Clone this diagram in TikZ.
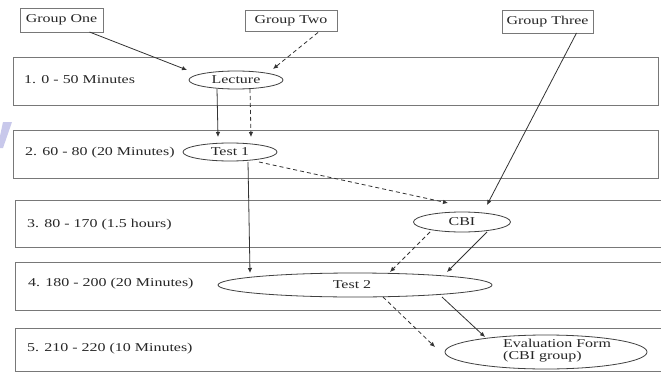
\documentclass[tikz,border=0pt]{standalone}
\usepackage{fontspec}
\setmainfont{Liberation Serif}
\usetikzlibrary{shapes.geometric,arrows.meta,calc}
\newcommand{\wtxt}[1]{\scalebox{1.33}[1]{#1}}
\definecolor{boxgray}{RGB}{120,120,120}
\definecolor{lav}{RGB}{200,200,235}
\tikzset{
  x=1pt, y=-1pt,
  every node/.style={font=\fontsize{12}{13}\selectfont, text=black!85},
  rowbox/.style={draw=boxgray, line width=0.9pt},
  grpbox/.style={draw=boxgray, line width=0.9pt, rectangle, inner sep=0pt},
  oval/.style={draw=black!75, line width=0.8pt, ellipse, inner sep=0pt},
  rowlabel/.style={anchor=west, inner sep=0pt},
  arr/.style={draw=black!80, line width=0.8pt, -{Latex[length=5pt,width=4.5pt]}},
  darr/.style={arr, dash pattern=on 4pt off 3pt},
}
\begin{document}
\begin{tikzpicture}
\clip (0,0) rectangle (661,372);
\fill[white] (0,0) rectangle (661,372);
% watermark stroke
\fill[lav] (3,122) -- (12,122) -- (3,148) -- (0,148) -- (0,136) -- cycle;
% row boxes
\draw[rowbox] (13,57) rectangle (658,105);
\draw[rowbox] (13,130) rectangle (658,178);
\draw[rowbox] (15,200) rectangle (670,247);
\draw[rowbox] (15,262) rectangle (670,310);
\draw[rowbox] (15,328) rectangle (670,371);
% row labels
\node[rowlabel] (r1) at (24,80) {\wtxt{1. 0 - 50 Minutes}};
\node[rowlabel] (r2) at (25,153) {\wtxt{2. 60 - 80 (20 Minutes)}};
\node[rowlabel] (r3) at (27,225) {\wtxt{3. 80 - 170 (1.5 hours)}};
\node[rowlabel] (r4) at (28,284) {\wtxt{4. 180 - 200 (20 Minutes)}};
\node[rowlabel] (r5) at (27,349) {\wtxt{5. 210 - 220 (10 Minutes)}};
% group boxes
\node[grpbox, minimum width=83pt, minimum height=24pt] (g1) at (61.5,20) {\wtxt{Group One}};
\node[grpbox, minimum width=92pt, minimum height=21pt] (g2) at (291,20.5) {\wtxt{Group Two}};
\node[grpbox, minimum width=91pt, minimum height=23pt] (g3) at (547.5,21.5) {\wtxt{Group Three}};
% ellipses
\node[oval, minimum width=94pt, minimum height=18pt] (lec) at (236,80) {\wtxt{Lecture}};
\node[oval, minimum width=94pt, minimum height=18pt] (t1) at (230,152) {\wtxt{Test 1}};
\node[oval, minimum width=97pt, minimum height=20pt] (cbi) at (462,222) {\wtxt{CBI}};
\node[oval, minimum width=274pt, minimum height=24pt] (t2) at (355,285) {};
\node (t2txt) at (352,285) {\wtxt{Test 2}};
\node[oval, minimum width=202pt, minimum height=34pt] (ev) at (546,352) {};
\node[anchor=west, inner sep=0pt, align=left] (evtxt) at (503,351) {\wtxt{Evaluation Form}\\[-1pt]\wtxt{(CBI group)}};
% connectors
\draw[arr] ($(g1.center)+(28,12)$) -- ($(lec.center)+(-49,-10)$);
\draw[darr] ($(g2.center)+(27,12)$) -- ($(lec.center)+(37,-11)$);
\draw[arr] ($(lec.center)+(-19,9)$) -- ($(t1.center)+(-12,-15)$);
\draw[darr] ($(lec.center)+(14,9)$) -- ($(t1.center)+(21,-15)$);
\draw[darr] ($(t1.center)+(29,10)$) -- ($(cbi.center)+(-14,-19)$);
\draw[arr] ($(g3.center)+(29,11.5)$) -- ($(cbi.center)+(25,-17)$);
\draw[arr] ($(t1.center)+(18,10)$) -- ($(t2.center)+(-105,-12)$);
\draw[darr] ($(cbi.center)+(-32,10)$) -- ($(t2.center)+(35,-13)$);
\draw[arr] ($(cbi.center)+(25,10)$) -- ($(t2.center)+(92,-13)$);
\draw[darr] ($(t2.center)+(28,12)$) -- ($(ev.center)+(-111,-5)$);
\draw[arr] ($(t2.center)+(87,12)$) -- ($(ev.center)+(-61,-15)$);
\end{tikzpicture}
\end{document}
